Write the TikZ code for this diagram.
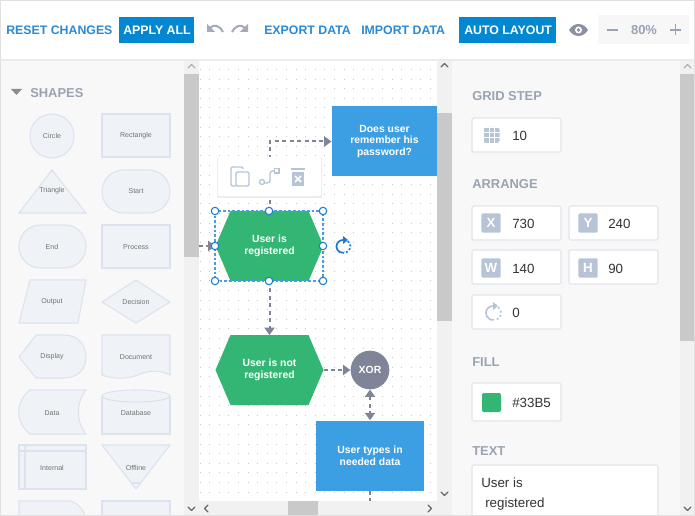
\documentclass[tikz,border=0pt]{standalone}
\usepackage{fontspec}
\setmainfont{Liberation Sans}
\usetikzlibrary{arrows.meta}
\definecolor{linkblue}{HTML}{2B8AD6}
\definecolor{btnblue}{HTML}{0288D1}
\definecolor{flowblue}{HTML}{3D9FE3}
\definecolor{flowgreen}{HTML}{33B574}
\definecolor{flowgrey}{HTML}{7F8499}
\definecolor{panelbg}{HTML}{F8F8F8}
\definecolor{barbg}{HTML}{F1F1F1}
\definecolor{barthumb}{HTML}{C9C9C9}
\definecolor{headgrey}{HTML}{9AA3B2}
\definecolor{iconblue}{HTML}{B6C4D6}
\definecolor{shapefill}{HTML}{EFF2F7}
\definecolor{shapeline}{HTML}{DDE3EE}
\definecolor{boxline}{HTML}{E0E5EC}
\definecolor{handleblue}{HTML}{1E7CD0}
\definecolor{selectblue}{HTML}{4A9BE6}
\tikzset{
  toolbtn/.style={font=\fontsize{9.25}{11}\selectfont\bfseries, inner sep=0pt, anchor=west},
  linkbtn/.style={toolbtn, text=linkblue},
  fillbtn/.style={toolbtn, text=white},
  palette/.style={fill=shapefill, draw=shapeline, line width=0.8pt},
  palettelabel/.style={font=\fontsize{5.3}{6}\selectfont, text=black!55, inner sep=0pt},
  panelhead/.style={font=\fontsize{9.7}{12}\selectfont\bfseries, text=headgrey, inner sep=0pt, anchor=west},
  fieldbox/.style={draw=boxline, fill=white, line width=0.8pt, rounded corners=1pt},
  fieldval/.style={font=\fontsize{10}{12}\selectfont, text=black!80, inner sep=0pt, anchor=west},
  tagbox/.style={fill=iconblue, rounded corners=1pt, minimum size=14.5pt, inner sep=0pt, text=white, font=\fontsize{10}{12}\selectfont\bfseries},
  flowtext/.style={font=\fontsize{7.8}{8.9}\selectfont\bfseries, text=white, align=center, inner sep=0pt},
  flowbox/.style={flowtext, rectangle, fill=flowblue, minimum width=81pt, minimum height=52.5pt},
  hexnode/.style={flowtext, rectangle, minimum width=81pt, minimum height=52.5pt, outer sep=0pt,
    path picture={\fill[flowgreen] (path picture bounding box.west)
      -- ([xshift=11.25pt]path picture bounding box.north west)
      -- ([xshift=-11.25pt]path picture bounding box.north east)
      -- (path picture bounding box.east)
      -- ([xshift=-11.25pt]path picture bounding box.south east)
      -- ([xshift=11.25pt]path picture bounding box.south west) -- cycle;}},
  gatenode/.style={flowtext, circle, fill=flowgrey, minimum size=29pt},
  flow/.style={draw=flowgrey, line width=1.5pt, dash pattern=on 3pt off 2.6pt, -{Triangle[length=5.5pt,width=7.5pt]}},
  flowback/.style={flow, {Triangle[length=5.5pt,width=7.5pt]}-{Triangle[length=5.5pt,width=7.5pt]}},
  handle/.style={circle, draw=handleblue, fill=white, line width=0.8pt, minimum size=5.6pt, inner sep=0pt},
  chevron/.style={draw=#1, line width=1pt, line cap=round, line join=round},
  chevron/.default=black!60
}
\begin{document}
\begin{tikzpicture}[x=0.75pt, y=-0.75pt]
  \useasboundingbox (0,0) rectangle (695,516);
  \fill[white] (0,0) rectangle (695,516);

  % Panels and scroll bars
  \fill[panelbg] (0,60) rectangle (184,516);
  \fill[barbg] (184,60) rectangle (199,516);
  \fill[barthumb] (184,74) rectangle (199,257);
  \fill[panelbg] (452,60) rectangle (680,516);
  \fill[barbg] (680,60) rectangle (695,516);
  \fill[barthumb] (680,74) rectangle (695,341);

  % Canvas dots
  \foreach \i in {0,...,24} {
    \foreach \j in {0,...,46} {
      \fill[black!22] ({200+9.6*\i-0.5},{60+9.6*\j-0.5}) rectangle +(1,1);
    }
  }

  % Canvas scroll bars
  \fill[barbg] (437,60) rectangle (452,516);
  \fill[barthumb] (437,113) rectangle (452,321);
  \fill[barbg] (199,501) rectangle (437,516);
  \fill[barthumb] (288,501) rectangle (318,516);
  \draw[chevron] (441,67) -- (444.5,63.5) -- (448,67);
  \draw[chevron] (441,492) -- (444.5,495.5) -- (448,492);
  \draw[chevron] (208,505) -- (204.5,508.5) -- (208,512);
  \draw[chevron] (428,505) -- (431.5,508.5) -- (428,512);
  \draw[chevron] (188,507) -- (191.5,510.5) -- (195,507);
  \draw[chevron=black!30] (188,68) -- (191.5,64.5) -- (195,68);
  \draw[chevron=black!30] (684,68) -- (687.5,64.5) -- (691,68);
  \draw[chevron] (684,507) -- (687.5,510.5) -- (691,507);

  % Toolbar
  \fill[black!8] (0,59) rectangle (695,61);
  \fill[white] (0,0) rectangle (695,59);
  \fill[btnblue] (119,17) rectangle (194,43);
  \fill[btnblue] (459,17) rectangle (556,43);
  \node[linkbtn] (reset) at (6,30.5) {RESET CHANGES};
  \node[fillbtn] (apply) at (123,30.5) {APPLY ALL};
  \node[linkbtn] (export) at (264,30.5) {EXPORT DATA};
  \node[linkbtn] (import) at (361,30.5) {IMPORT DATA};
  \node[fillbtn] (auto) at (464,30.5) {AUTO LAYOUT};
  \draw[flowgrey!70, line width=1.5pt] (210,28) .. controls (214,24) and (219,25) .. (223,32);
  \fill[flowgrey!70] (207,24) -- (207,32) -- (215,32) -- cycle;
  \draw[flowgrey!70, line width=1.5pt] (245,28) .. controls (241,24) and (236,25) .. (232,32);
  \fill[flowgrey!70] (248,24) -- (248,32) -- (240,32) -- cycle;
  \fill[flowgrey!90] (569,30) .. controls (574,22) and (583,22) .. (588,30) .. controls (583,38) and (574,38) .. (569,30) -- cycle;
  \fill[white] (578.5,30) circle (3.5);
  \fill[flowgrey!90] (578.5,30) circle (1.8);
  \fill[barbg!60] (598,15) rectangle (689,44);
  \draw[headgrey, line width=1.2pt] (607,30) -- (618,30);
  \draw[headgrey, line width=1.2pt] (670,30) -- (681,30) (675.5,24.5) -- (675.5,35.5);
  \node[font=\fontsize{9.7}{12}\selectfont\bfseries, text=headgrey, inner sep=0pt] (zoomval) at (644,30.5) {80\%};

  % Shapes panel
  \fill[black!45] (11,89) -- (22,89) -- (16.5,95) -- cycle;
  \node[panelhead] (shapes) at (30,93.5) {SHAPES};
  \filldraw[palette] (52,136) circle (22);
  \filldraw[palette] (102,114) rectangle (170,157);
  \filldraw[palette] (52,170) -- (86,213) -- (19,213) -- cycle;
  \filldraw[palette, rounded corners=16pt] (102,170) rectangle (170,213);
  \filldraw[palette, rounded corners=16pt] (19,225) rectangle (86,268);
  \filldraw[palette] (102,225) rectangle (170,268);
  \filldraw[palette] (30,280) -- (86,280) -- (78,323) -- (19,323) -- cycle;
  \filldraw[palette] (136,280) -- (170,302) -- (136,323) -- (102,302) -- cycle;
  \filldraw[palette] (19,357) -- (36,335) -- (64,335) .. controls (78,335) and (86,345) .. (86,357) .. controls (86,369) and (78,378) .. (64,378) -- (36,378) -- cycle;
  \filldraw[palette] (102,335) -- (170,335) -- (170,375) .. controls (155,368) and (145,372) .. (135,376) .. controls (125,379) and (112,379) .. (102,375) -- cycle;
  \filldraw[palette] (30,390) -- (86,390) .. controls (76,402) and (76,422) .. (86,434) -- (30,434) .. controls (15,422) and (15,402) .. (30,390) -- cycle;
  \filldraw[palette] (102,396) -- (102,434) -- (170,434) -- (170,396);
  \filldraw[palette] (136,396) ellipse (34 and 6);
  \filldraw[palette] (19,445) rectangle (86,489);
  \draw[shapeline, line width=0.8pt] (25,445) -- (25,489) (19,451) -- (86,451);
  \filldraw[palette] (102,445) -- (170,445) -- (136,489) -- cycle;
  \draw[shapeline, line width=0.8pt] (131,483) -- (141,483);
  \filldraw[palette] (19,516) -- (19,501) -- (70,501) .. controls (78,503) and (83,509) .. (85,516) -- cycle;
  \filldraw[palette] (102,516) -- (102,501) -- (170,501) -- (170,516) -- cycle;
  \foreach \t/\a/\b in {Circle/52/136, Rectangle/136/136, Triangle/52/191, Start/136/191,
                        End/52/247, Process/136/247, Output/52/302, Decision/136/302,
                        Display/52/357, Document/136/357, Data/52/413, Database/136/413,
                        Internal/52/468, Offline/136/468} {
    \node[palettelabel] (label\t) at (\a,\b) {\t};
  }

  % Flow shapes
  \node[flowbox, minimum width=79pt] (password) at (384.5,141.5) {Does user\\remember his\\password?};
  \node[hexnode] (registered) at (269.5,246) {User is\\registered};
  \node[hexnode] (notregistered) at (269.5,370) {User is not\\registered};
  \node[gatenode] (xor) at (370,370) {XOR};
  \node[flowbox] (types) at (370,455.5) {User types in\\needed data};
  \coordinate (inleft) at (199,246);
  \coordinate (outbottom) at (370,501);

  % Connectors
  \draw[flow] (registered.north) |- (password.west);
  \draw[flow] (inleft) -- (registered.west);
  \draw[flow] (registered.south) -- (notregistered.north);
  \draw[flow] (notregistered.east) -- (xor.west);
  \draw[flowback] (xor.south) -- (types.north);
  \draw[draw=flowgrey, line width=1.5pt, dash pattern=on 3pt off 2.6pt] (types.south) -- (outbottom);

  % Selection frame
  \draw[selectblue, line width=0.8pt, dash pattern=on 2pt off 1.5pt] (215,211) rectangle (323,281);
  \foreach \n/\a/\b in {a/215/211, b/269/211, c/323/211, d/215/246, e/323/246, f/215/281, g/269/281, h/323/281} {
    \node[handle] (handle\n) at (\a,\b) {};
  }
  \draw[handleblue, line width=1.3pt] (343,240) arc (-90:-280:6.5);
  \draw[handleblue, line width=1.3pt, dash pattern=on 1.5pt off 1.5pt] (344,240) arc (-90:80:6.5);
  \fill[handleblue] (343,236) -- (348,240) -- (343,244) -- cycle;

  % Context toolbar
  \fill[black!7] (217,158) rectangle (322,198);
  \fill[white, rounded corners=1.5pt] (218,157) rectangle (321,196);
  \draw[iconblue, line width=1pt, rounded corners=1pt] (243,169) -- (243,167) -- (231,167) -- (231,186) -- (236,186);
  \draw[iconblue, line width=1pt, fill=white, rounded corners=1pt] (236,172) rectangle (249,186);
  \draw[iconblue, line width=1pt, rounded corners=2pt] (264,183) -- (270,183) -- (270,171) -- (274,171);
  \filldraw[iconblue, fill=white, line width=1pt] (262,182) circle (2.5);
  \draw[iconblue, line width=1pt, fill=white] (274.5,168.5) rectangle (279,173);
  \fill[iconblue] (292,172) rectangle (304,186);
  \fill[iconblue] (291,168) rectangle (305,170.5);
  \draw[white, line width=1.3pt] (295,176) -- (301,182) (301,176) -- (295,182);

  % Right panel
  \node[panelhead] (gridhead) at (472,96.5) {GRID STEP};
  \node[panelhead] (arrangehead) at (472,184.5) {ARRANGE};
  \node[panelhead] (fillhead) at (472,362.5) {FILL};
  \node[panelhead] (texthead) at (472,451.5) {TEXT};
  \foreach \a/\b in {472/118, 472/206, 569/206, 472/250, 569/250, 472/295} {
    \draw[fieldbox] (\a,\b) rectangle +(89,34);
  }
  \draw[fieldbox] (472,383) rectangle +(89,38);
  \fill[white] (472.5,465.5) rectangle (657.5,516);
  \draw[fieldbox] (472,516) -- (472,465) -- (658,465) -- (658,516);
  \node[tagbox, minimum size=12pt, rounded corners=2pt] (gridicon) at (491.5,135) {};
  \foreach \i in {-1,0,1} {
    \draw[white, line width=0.6pt] ({491.5+\i*5.3-2.6},127) -- ({491.5+\i*5.3-2.6},143);
    \draw[white, line width=0.6pt] (483,{135+\i*5.3-2.6}) -- (500,{135+\i*5.3-2.6});
  }
  \node[tagbox] (tagx) at (491,223) {X};
  \node[tagbox] (tagy) at (588,223) {Y};
  \node[tagbox] (tagw) at (491,268) {W};
  \node[tagbox] (tagh) at (588,268) {H};
  \draw[iconblue, line width=1.2pt] (493,306) arc (-90:-280:7);
  \draw[iconblue, line width=1.2pt, dash pattern=on 1.5pt off 1.7pt] (494,306) arc (-90:80:7);
  \fill[iconblue] (493,302) -- (498,306) -- (493,310) -- cycle;
  \fill[flowgreen, rounded corners=1.5pt] (482,393) rectangle (501,412);
  \node[fieldval] (stepval) at (512,136) {10};
  \node[fieldval] (xval) at (512,224) {730};
  \node[fieldval] (yval) at (608,224) {240};
  \node[fieldval] (wval) at (512,269) {140};
  \node[fieldval] (hval) at (608,269) {90};
  \node[fieldval] (angleval) at (512,313) {0};
  \node[fieldval] (fillval) at (512,403) {\#33B5};
  \node[fieldval, align=left, font=\fontsize{10}{14.5}\selectfont] (textval) at (481,494) {User is\\ \hspace*{3pt}registered};
  \draw[black!12, line width=0.75pt] (0.5,0.5) rectangle (694.5,515.5);
\end{tikzpicture}
\end{document}
